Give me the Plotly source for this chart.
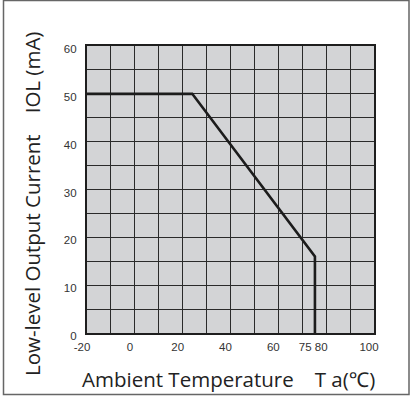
import plotly.graph_objects as go

# Data
temp_c = [-20, 24, 75.3, 75.3]
iol_ma = [50, 50, 16, 0]

x_tick_vals = [-20, 0, 20, 40, 60, 80, 100]
x_tick_text = ["-20", "0", "20", "40", "60", "80", "100"]
x_tick_vals_extra = [75]
x_tick_text_extra = ["75"]
y_tick_vals = [0, 10, 20, 30, 40, 50, 60]

W, H = 410, 396
L, R, T, B = 87, 36, 46, 63
PW, PH = W - L - R, H - T - B

def px_x(p):
    return (p - L) / PW

def px_y(p):
    return (H - B - p) / PH

fig = go.Figure()
fig.add_trace(go.Scatter(x=temp_c, y=iol_ma, mode="lines",
                         line=dict(color="#1c1c1c", width=2.6),
                         hoverinfo="skip", showlegend=False))
# invisible traces carrying the labelled x-axes
for ax in ("x2", "x3"):
    fig.add_trace(go.Scatter(x=[-20, 100], y=[0, 0], xaxis=ax, mode="markers",
                             marker=dict(opacity=0), hoverinfo="skip",
                             showlegend=False))

font_fam = "Open Sans, Noto Sans, sans-serif"
tick_fam = "Liberation Sans, Arial, sans-serif"
tick_font = dict(size=11.5, color="#333333", family=tick_fam)

label_axis = dict(range=[-20, 100], overlaying="x", side="bottom",
                  tickmode="array", tickangle=0, showgrid=False, zeroline=False,
                  showline=False, ticks="", ticklabelstandoff=5,
                  tickfont=tick_font, fixedrange=True)

fig.update_layout(
    width=W, height=H,
    margin=dict(l=L, r=R, t=T, b=B, pad=0),
    paper_bgcolor="white",
    plot_bgcolor="#d3d4d6",
    font=dict(family=font_fam, color="#333333"),
    xaxis=dict(range=[-20, 100], dtick=10, tick0=0, showgrid=True,
               gridcolor="#2a2a2a", gridwidth=1.2, showticklabels=False,
               ticks="", zeroline=False, showline=True, linecolor="#1e1e1e",
               linewidth=2.2, mirror=True, fixedrange=True),
    xaxis2=dict(label_axis, tickvals=x_tick_vals, ticktext=x_tick_text,
                ticklabelshift=-5),
    xaxis3=dict(label_axis, tickvals=x_tick_vals_extra,
                ticktext=x_tick_text_extra, ticklabelshift=-9),
    yaxis=dict(range=[0, 60], tickmode="array", tickvals=y_tick_vals,
               showgrid=True, gridcolor="#2a2a2a", gridwidth=1.2,
               minor=dict(dtick=5, tick0=0, showgrid=True, gridcolor="#2a2a2a",
                          gridwidth=1.2, ticks=""),
               ticks="", zeroline=False, showline=True, linecolor="#1e1e1e",
               linewidth=2.2, mirror=True, ticklabelstandoff=6,
               ticklabelshift=3, tickfont=tick_font, fixedrange=True),
    shapes=[dict(type="rect", xref="paper", yref="paper",
                 x0=px_x(3.5), x1=px_x(409), y0=px_y(394.5), y1=px_y(0.5),
                 line=dict(color="#666666", width=1.5), layer="below")],
    annotations=[
        dict(text="Low-level Output Current　IOL (mA)", xref="paper", yref="paper",
             x=px_x(32), y=px_y(204), textangle=-90, showarrow=False,
             xanchor="center", yanchor="middle",
             font=dict(size=20.5, color="#222222", family=font_fam)),
        dict(text="Ambient Temperature　T a(℃)", xref="paper", yref="paper",
             x=px_x(80), y=px_y(379), showarrow=False,
             xanchor="left", yanchor="middle",
             font=dict(size=20.5, color="#222222", family=font_fam)),
    ],
)

fig.write_html("out.html", config={"displayModeBar": False},
               post_script="document.body.style.margin='0';document.body.style.overflow='hidden';")
